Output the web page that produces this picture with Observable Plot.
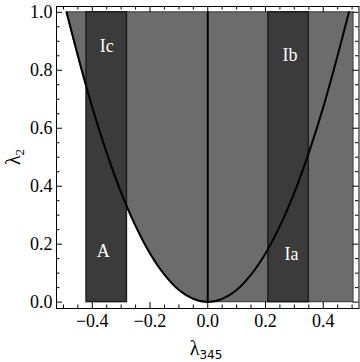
<!DOCTYPE html>
<html><head><meta charset="utf-8">
<script src="https://cdn.jsdelivr.net/npm/d3@7"></script>
<script src="https://cdn.jsdelivr.net/npm/@observablehq/plot@0.6"></script>
<style>body{margin:0;background:#fff} svg{display:block}</style>
</head><body><div id="chart"></div>
<script>
// Boundary curve
const curveX = [-0.489,-0.45,-0.4,-0.35,-0.3,-0.25,-0.2,-0.15,-0.1,-0.05,0,0.05,0.1,0.15,0.2,0.25,0.3,0.35,0.4,0.45,0.489];
const curveY = [1.0,0.851,0.672,0.515,0.378,0.263,0.168,0.095,0.042,0.011,0,0.011,0.042,0.095,0.168,0.263,0.378,0.515,0.672,0.851,1.0];
// Gray allowed region: lower edge
const regionX = [-0.489,-0.45,-0.4,-0.35,-0.3,-0.25,-0.2,-0.15,-0.1,-0.05,0,0.505];
const regionLow = [1.0,0.851,0.672,0.515,0.378,0.263,0.168,0.095,0.042,0.011,0,0];
const regionHigh = 1.0;
// Dark bands
const bandX1 = [-0.42, 0.21];
const bandX2 = [-0.28, 0.35];
// Region labels
const labelText = ["Ic","A","Ib","Ia"];
const labelX = [-0.35,-0.362,0.285,0.29];
const labelY = [0.883,0.174,0.851,0.164];
// Ticks
const xTicks = [-0.4,-0.2,0,0.2,0.4];
const xTickLabels = ["\u22120.4","\u22120.2","0.0","0.2","0.4"];
const xMinor = [-0.5,-0.45,-0.35,-0.3,-0.25,-0.15,-0.1,-0.05,0.05,0.1,0.15,0.25,0.3,0.35,0.45,0.5];
const yTicks = [0,0.2,0.4,0.6,0.8,1.0];
const yTickLabels = ["0.0","0.2","0.4","0.6","0.8","1.0"];
const yMinor = [0.05,0.1,0.15,0.25,0.3,0.35,0.45,0.5,0.55,0.65,0.7,0.75,0.85,0.9,0.95];

const W = 360, H = 362, mL = 56, mR = 1.5, mT = 6, mB = 54;
const fw = W - mL - mR, fh = H - mT - mB;
const region = regionX.map((x, i) => ({x, lo: regionLow[i], hi: regionHigh}));
const curve = curveX.map((x, i) => ({x, y: curveY[i]}));
const bands = bandX1.map((x1, i) => ({x1, x2: bandX2[i]}));
const labels = labelText.map((t, i) => ({t, x: labelX[i], y: labelY[i]}));

const chart = Plot.plot({
  width: W, height: H,
  marginLeft: mL, marginRight: mR, marginTop: mT, marginBottom: mB,
  style: {fontFamily: "Liberation Serif", fontSize: "18px", background: "#fff", color: "#000"},
  x: {domain: [-0.524, 0.524]},
  y: {domain: [-0.022, 1.02]},
  marks: [
    Plot.areaY(region, {x: "x", y1: "lo", y2: "hi", fill: "#6c6c6c", stroke: "#4a4a4a", strokeWidth: 1.2, curve: "monotone-x"}),
    Plot.rect(bands, {x1: "x1", x2: "x2", y1: 0, y2: 1, fill: "#3b3b3b", stroke: "#1e1e1e", strokeWidth: 1.5}),
    Plot.line(curve, {x: "x", y: "y", stroke: "#000", strokeWidth: 2, curve: "catmull-rom"}),
    Plot.ruleX([0], {y1: 0, y2: 1, stroke: "#000", strokeWidth: 2}),
    Plot.text(labels, {x: "x", y: "y", text: "t", fill: "#fff", fontSize: 18, fontFamily: "Liberation Serif"}),
    Plot.frame({stroke: "#000", strokeWidth: 1}),
    // inward ticks, bottom & top
    Plot.tickX(xTicks, {x: d => d, insetTop: fh - 6, stroke: "#000"}),
    Plot.tickX(xTicks, {x: d => d, insetBottom: fh - 6, stroke: "#000"}),
    Plot.tickX(xMinor, {x: d => d, insetTop: fh - 3.5, stroke: "#000"}),
    Plot.tickX(xMinor, {x: d => d, insetBottom: fh - 3.5, stroke: "#000"}),
    // inward ticks, left & right
    Plot.tickY(yTicks, {y: d => d, insetRight: fw - 6, stroke: "#000"}),
    Plot.tickY(yTicks, {y: d => d, insetLeft: fw - 6, stroke: "#000"}),
    Plot.tickY(yMinor, {y: d => d, insetRight: fw - 3.5, stroke: "#000"}),
    Plot.tickY(yMinor, {y: d => d, insetLeft: fw - 3.5, stroke: "#000"}),
    Plot.axisX(xTicks, {tickSize: 0, tickPadding: 6, tickFormat: d => xTickLabels[xTicks.indexOf(d)], label: null, fontSize: 18}),
    Plot.axisY(yTicks, {tickSize: 0, tickPadding: 4, tickFormat: d => yTickLabels[yTicks.indexOf(d)], label: null, fontSize: 18})
  ]
});

const svg = d3.select(chart);
const xl = svg.append("text").attr("x", 206).attr("y", 355).attr("text-anchor", "middle")
  .attr("font-family", "Liberation Serif").attr("font-size", 20).attr("fill", "#000");
xl.append("tspan").text("λ");
xl.append("tspan").attr("font-family", "DejaVu Sans").attr("font-size", 12).attr("dy", 4).text("345");
const yl = svg.append("text").attr("transform", "translate(20,157) rotate(-90)").attr("text-anchor", "middle")
  .attr("font-family", "Liberation Serif").attr("font-size", 20).attr("fill", "#000");
yl.append("tspan").text("λ");
yl.append("tspan").attr("font-size", 13).attr("dy", 4).text("2");

document.getElementById("chart").appendChild(chart);
</script>
</body></html>
